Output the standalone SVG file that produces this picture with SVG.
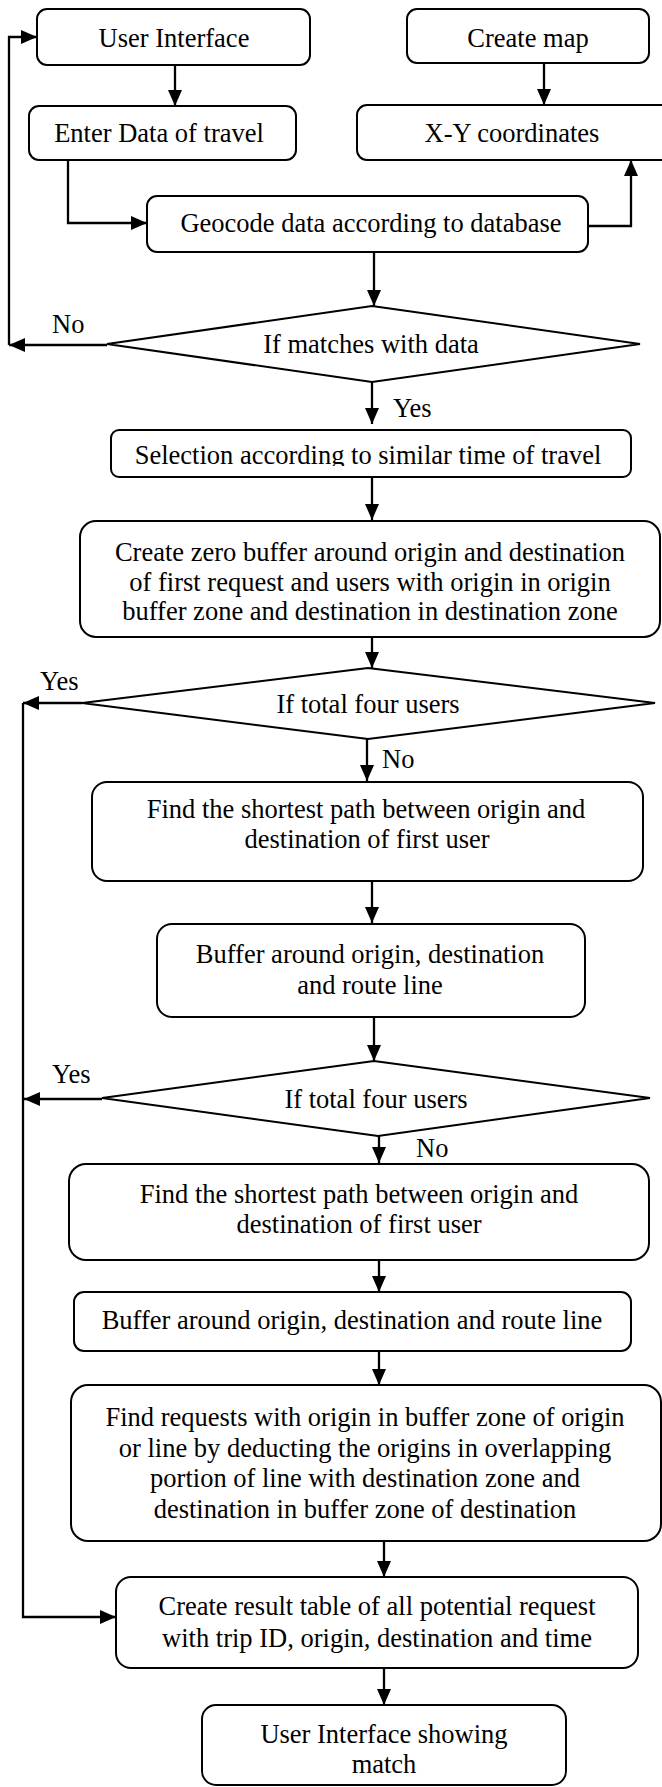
<svg xmlns="http://www.w3.org/2000/svg" width="662" height="1787" viewBox="0 0 662 1787">
<style>
.box{fill:#fff;stroke:#000;stroke-width:2}
.dia{fill:#fff;stroke:#000;stroke-width:2}
.t{font-family:"Liberation Serif","Times New Roman",serif;font-size:26.5px;fill:#000;text-anchor:middle}
.l{font-family:"Liberation Serif","Times New Roman",serif;font-size:26.5px;fill:#000}
.c{fill:none;stroke:#000;stroke-width:2.3}
</style>
<defs>
<marker id="ah" markerUnits="userSpaceOnUse" markerWidth="16" markerHeight="14" refX="16" refY="7" orient="auto">
<path d="M0,0 L16,7 L0,14 z" fill="#000"/>
</marker>
<clipPath id="selclip"><rect x="100" y="420" width="540" height="46"/></clipPath>
</defs>
<rect width="662" height="1787" fill="#fff"/>
<g id="connectors">
<path class="c" d="M175,65 V106" marker-end="url(#ah)"/>
<path class="c" d="M544,63 V105" marker-end="url(#ah)"/>
<path class="c" d="M68,160 V223 H147" marker-end="url(#ah)"/>
<path class="c" d="M588,226 H631 V160" marker-end="url(#ah)"/>
<path class="c" d="M374,252 V306" marker-end="url(#ah)"/>
<path class="c" d="M107,345 H9" marker-end="url(#ah)"/>
<path class="c" d="M9,345 V37 H37" marker-end="url(#ah)"/>
<path class="c" d="M372,382 V424" marker-end="url(#ah)"/>
<path class="c" d="M372,478 V520" marker-end="url(#ah)"/>
<path class="c" d="M372,637 V668" marker-end="url(#ah)"/>
<path class="c" d="M82,703 H23" marker-end="url(#ah)"/>
<path class="c" d="M23,703 V1617 H116" marker-end="url(#ah)"/>
<path class="c" d="M367,739 V781" marker-end="url(#ah)"/>
<path class="c" d="M372,881 V923" marker-end="url(#ah)"/>
<path class="c" d="M374,1017 V1061" marker-end="url(#ah)"/>
<path class="c" d="M102,1099 H24" marker-end="url(#ah)"/>
<path class="c" d="M379,1136 V1163" marker-end="url(#ah)"/>
<path class="c" d="M379,1260 V1292" marker-end="url(#ah)"/>
<path class="c" d="M379,1351 V1385" marker-end="url(#ah)"/>
<path class="c" d="M384,1541 V1577" marker-end="url(#ah)"/>
<path class="c" d="M384,1668 V1705" marker-end="url(#ah)"/>
<text class="l" x="52" y="333">No</text>
<text class="l" x="393" y="417">Yes</text>
<text class="l" x="40" y="690">Yes</text>
<text class="l" x="382" y="768">No</text>
<text class="l" x="52" y="1083">Yes</text>
<text class="l" x="416" y="1157">No</text>
</g>
<g id="user-interface">
<rect class="box" x="37" y="9" width="273" height="56" rx="10"/>
<text class="t" x="174" y="47">User Interface</text>
</g>
<g id="create-map">
<rect class="box" x="407" y="9" width="242" height="54" rx="10"/>
<text class="t" x="528" y="47">Create map</text>
</g>
<g id="enter-data">
<rect class="box" x="29" y="106" width="267" height="54" rx="10"/>
<text class="t" x="159" y="142">Enter Data of travel</text>
</g>
<g id="xy-coordinates">
<rect class="box" x="357" y="105" width="315" height="55" rx="10"/>
<text class="t" x="512" y="142">X-Y coordinates</text>
</g>
<g id="geocode">
<rect class="box" x="147" y="196" width="441" height="56" rx="10"/>
<text class="t" x="371" y="232">Geocode data according to database</text>
</g>
<g id="if-matches">
<polygon class="dia" points="372,306 640,344 372,382 107,344"/>
<text class="t" x="371" y="353">If matches with data</text>
</g>
<g id="selection">
<rect class="box" x="111" y="430" width="520" height="47" rx="8"/>
<text class="t" x="368" y="464" clip-path="url(#selclip)">Selection according to similar time of travel</text>
</g>
<g id="zero-buffer">
<rect class="box" x="80" y="521" width="580" height="116" rx="16"/>
<text class="t" x="370" y="561">Create zero buffer around origin and destination</text>
<text class="t" x="370" y="591">of first request and users with origin in origin</text>
<text class="t" x="370" y="620">buffer zone and destination in destination zone</text>
</g>
<g id="if-four-1">
<polygon class="dia" points="368,668 655,703 368,739 82,703"/>
<text class="t" x="368" y="713">If total four users</text>
</g>
<g id="shortest-path-1">
<rect class="box" x="92" y="782" width="551" height="99" rx="15"/>
<text class="t" x="366" y="818">Find the shortest path between origin and</text>
<text class="t" x="367" y="848">destination of first user</text>
</g>
<g id="buffer-1">
<rect class="box" x="157" y="924" width="428" height="93" rx="15"/>
<text class="t" x="370" y="963">Buffer around origin, destination</text>
<text class="t" x="370" y="994">and route line</text>
</g>
<g id="if-four-2">
<polygon class="dia" points="374,1061 650,1098 378,1136 102,1098"/>
<text class="t" x="376" y="1108">If total four users</text>
</g>
<g id="shortest-path-2">
<rect class="box" x="69" y="1164" width="580" height="96" rx="17"/>
<text class="t" x="359" y="1203">Find the shortest path between origin and</text>
<text class="t" x="359" y="1233">destination of first user</text>
</g>
<g id="buffer-2">
<rect class="box" x="74" y="1292" width="557" height="59" rx="10"/>
<text class="t" x="352" y="1329">Buffer around origin, destination and route line</text>
</g>
<g id="find-requests">
<rect class="box" x="71" y="1385" width="590" height="156" rx="17"/>
<text class="t" x="365" y="1426">Find requests with origin in buffer zone of origin</text>
<text class="t" x="365" y="1457">or line by deducting the origins in overlapping</text>
<text class="t" x="365" y="1487">portion of line with destination zone and</text>
<text class="t" x="365" y="1518">destination in buffer zone of destination</text>
</g>
<g id="result-table">
<rect class="box" x="116" y="1577" width="522" height="91" rx="15"/>
<text class="t" x="377" y="1615">Create result table of all potential request</text>
<text class="t" x="377" y="1647">with trip ID, origin, destination and time</text>
</g>
<g id="ui-showing-match">
<rect class="box" x="202" y="1705" width="364" height="80" rx="14"/>
<text class="t" x="384" y="1743">User Interface showing</text>
<text class="t" x="384" y="1773">match</text>
</g>
</svg>
